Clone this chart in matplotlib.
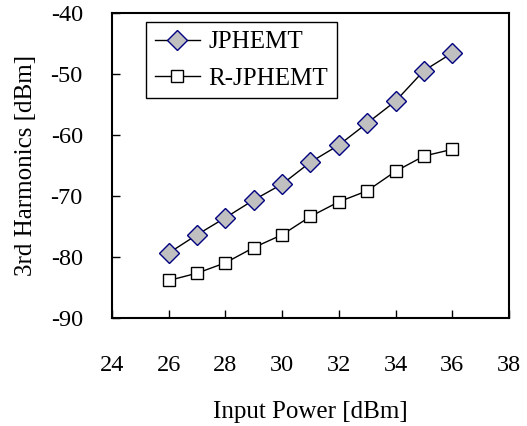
import matplotlib
matplotlib.use("Agg")
import matplotlib.pyplot as plt

x_power = [26, 27, 28, 29, 30, 31, 32, 33, 34, 35, 36]
jphemt = [-79.4, -76.4, -73.6, -70.7, -68.1, -64.5, -61.7, -58.1, -54.5, -49.5, -46.6]
r_jphemt = [-83.9, -82.7, -81.0, -78.5, -76.4, -73.4, -71.0, -69.2, -66.0, -63.5, -62.4]
x_ticks = [24, 26, 28, 30, 32, 34, 36, 38]
y_ticks = [-90, -80, -70, -60, -50, -40]

plt.rcParams['font.family'] = ['Liberation Serif', 'DejaVu Serif']
plt.rcParams['axes.unicode_minus'] = False

fig = plt.figure(figsize=(5.27, 4.26), dpi=100)
ax = fig.add_axes([112/527, 1-317.7/426, 397/527, 305/426])

ax.plot(x_power, jphemt, color='black', lw=1.0, marker='D', ms=10,
        mfc='#C0C0C0', mec='#000080', mew=1.0, label='JPHEMT')
ax.plot(x_power, r_jphemt, color='black', lw=1.0, marker='s', ms=9,
        mfc='white', mec='black', mew=1.0, label='R-JPHEMT')

ax.set_xlim(24, 38)
ax.set_ylim(-90, -40)
ax.set_xticks(x_ticks)
ax.set_yticks(y_ticks)
ax.tick_params(axis='both', direction='in', length=6, width=1.0, labelsize=17.5)
ax.tick_params(axis='x', pad=27)
ax.tick_params(axis='y', pad=21)
for t in ax.xaxis.get_major_ticks():
    if t.get_loc() in (24, 38):
        t.tick1line.set_visible(False)
for t in ax.yaxis.get_major_ticks():
    if t.get_loc() in (-90, -40):
        t.tick1line.set_visible(False)
for s in ax.spines.values():
    s.set_linewidth(1.5)

ax.set_xlabel('Input Power [dBm]', fontsize=18, labelpad=18)
ax.set_ylabel('3rd Harmonics [dBm]', fontsize=18, labelpad=10)

leg = ax.legend(loc='upper left', bbox_to_anchor=(0.0856, 0.9695), borderaxespad=0,
                fancybox=False, framealpha=1, edgecolor='black', fontsize=18,
                handlelength=1.8, handletextpad=0.35, labelspacing=0.55, borderpad=0.35)
leg.get_frame().set_linewidth(1.0)

fig.savefig('out.png', dpi=100, facecolor='white')
